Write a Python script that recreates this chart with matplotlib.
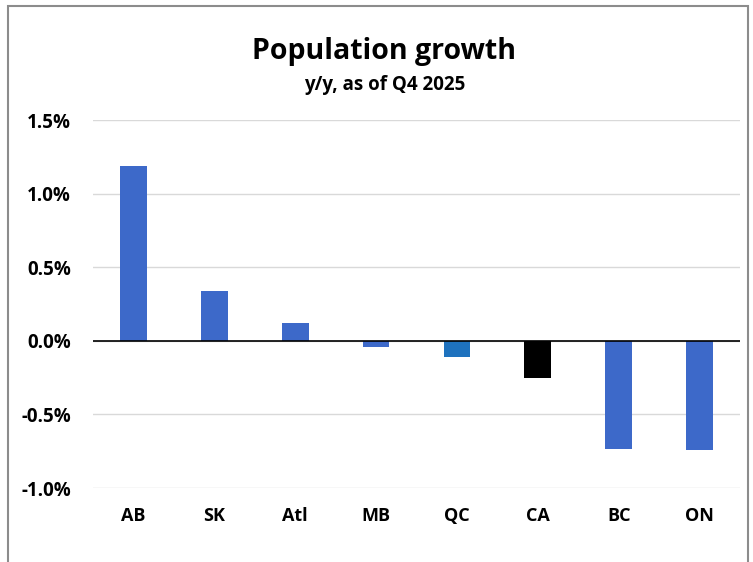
import matplotlib.pyplot as plt
from matplotlib.patches import Rectangle
from matplotlib.ticker import FuncFormatter

# data (y/y population growth, %)
regions = ['AB', 'SK', 'Atl', 'MB', 'QC', 'CA', 'BC', 'ON']
growth = [1.19, 0.34, 0.12, -0.04, -0.11, -0.25, -0.735, -0.74]
bar_colors = ['#3D69C9', '#3D69C9', '#3D69C9', '#3D69C9', '#1E72BE', '#000000', '#3D69C9', '#3D69C9']
yticks = [-1.0, -0.5, 0.0, 0.5, 1.0, 1.5]

plt.rcParams['font.family'] = ['Open Sans', 'DejaVu Sans']

fig = plt.figure(figsize=(7.53, 5.62), dpi=100)
fig.patch.set_facecolor('white')

# grey frame around the chart
fig.patches.append(Rectangle((8 / 753, -0.01), 740 / 753, 1 - 6 / 562 + 0.01,
                             transform=fig.transFigure, fill=False,
                             edgecolor='#8C8C8C', linewidth=1.5))

ax = fig.add_axes([93 / 753, 74 / 562, 647 / 753, 368 / 562])
x = range(len(regions))
ax.bar(x, growth, width=0.33, color=bar_colors, zorder=3)
ax.axhline(0, color='black', linewidth=1.2, zorder=4)

ax.set_xlim(-0.5, len(regions) - 0.5)
ax.set_ylim(-1.0, 1.5)
ax.set_yticks(yticks)
ax.yaxis.set_major_formatter(FuncFormatter(lambda v, p: '%.1f%%' % v))
ax.grid(axis='y', color='#D9D9D9', linewidth=1, zorder=0)
ax.set_xticks(list(x))
ax.set_xticklabels(regions)
ax.tick_params(axis='both', length=0)
ax.tick_params(axis='y', pad=16, labelsize=13.5)
ax.tick_params(axis='x', pad=14, labelsize=13)
for lbl in ax.get_xticklabels() + ax.get_yticklabels():
    lbl.set_fontweight('bold')
for s in ax.spines.values():
    s.set_visible(False)

fig.text(384 / 753, 1 - 52 / 562, 'Population growth', ha='center', va='center',
         fontsize=20.5, fontweight='bold')
fig.text(385 / 753, 1 - 85 / 562, 'y/y, as of Q4 2025', ha='center', va='center',
         fontsize=13.5, fontweight='bold')

fig.savefig('out.png', dpi=100)
